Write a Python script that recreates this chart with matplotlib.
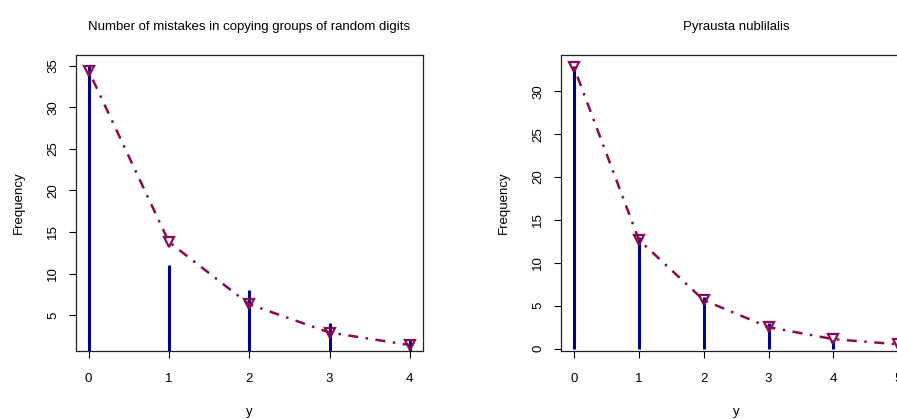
import numpy as np
import matplotlib.pyplot as plt

plt.rcParams['font.family'] = ['Liberation Sans', 'DejaVu Sans']

# mistakes in copying groups of random digits
y_left = [0, 1, 2, 3, 4]
obs_left = [35, 11, 8, 4, 2]
fit_left = [34.4, 13.8, 6.3, 2.9, 1.4]

# Pyrausta nublilalis
y_right = [0, 1, 2, 3, 4, 5]
obs_right = [33, 13, 6, 3, 1, 1]
fit_right = [32.8, 12.7, 5.65, 2.5, 1.1, 0.5]

titles = ["Number of mistakes in copying groups of random digits", "Pyrausta nublilalis"]
bar_col = "#00008B"
fit_col = "#8B0A50"


def r_range(vals):
    lo, hi = min(vals), max(vals)
    d = 0.04 * (hi - lo)
    return lo - d, hi + d


def panel(ax, y, obs, fit, title, yticks):
    ax.vlines(y, 0, obs, colors=bar_col, linewidth=2.2, zorder=2)
    ax.plot(y, fit, color=fit_col, linewidth=1.8, linestyle=(0, (1, 3, 4, 3)),
            marker="v", markersize=7, markerfacecolor="none",
            markeredgecolor=fit_col, markeredgewidth=1.6, zorder=3)
    ax.set_xlim(*r_range(y))
    ax.set_ylim(*r_range(obs))
    ax.set_xticks(y)
    ax.set_yticks(yticks)
    ax.set_yticklabels([str(t) for t in yticks], rotation=90, va="center")
    ax.tick_params(direction="out", length=5, width=0.8, labelsize=9.5, pad=11)
    ax.tick_params(axis="y", pad=7)
    for s in ax.spines.values():
        s.set_linewidth(0.9)
        s.set_color("#222222")
    ax.set_title(title, fontsize=9.5, pad=18)
    ax.set_xlabel("y", fontsize=9.5, labelpad=15)
    ax.set_ylabel("Frequency", fontsize=9.5, labelpad=16)


fig = plt.figure(figsize=(8.97, 4.19), dpi=100)
ax1 = fig.add_axes([0.0844, 0.1623, 0.3868, 0.7072])
ax2 = fig.add_axes([0.6254, 0.1623, 0.3905, 0.7072])

panel(ax1, y_left, obs_left, fit_left, titles[0], [5, 10, 15, 20, 25, 30, 35])
panel(ax2, y_right, obs_right, fit_right, titles[1], [0, 5, 10, 15, 20, 25, 30])

fig.savefig("out.png", dpi=100)
